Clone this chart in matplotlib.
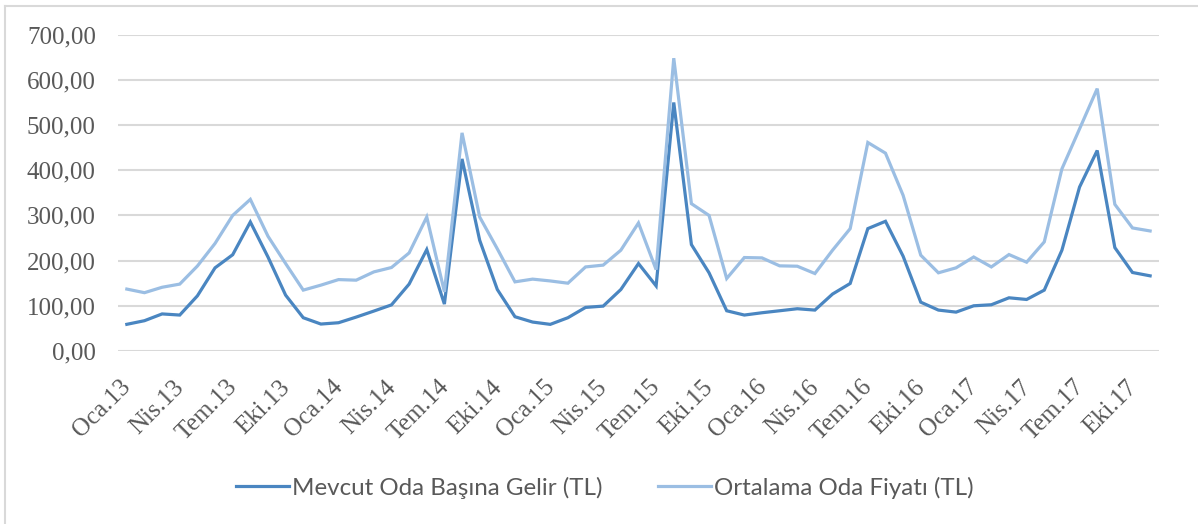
import matplotlib.pyplot as plt
from matplotlib.lines import Line2D
from matplotlib.transforms import ScaledTranslation

months = ['Oca', 'Şub', 'Mar', 'Nis', 'May', 'Haz', 'Tem', 'Ağu', 'Eyl', 'Eki', 'Kas', 'Ara']
years = ['13', '14', '15', '16', '17']
dates = [m + '.' + y for y in years for m in months][:59]

mevcut = [59, 67, 82, 79.5, 122, 184, 213, 285.5, 208, 123.6,
          73.6, 59.6, 62.5, 75, 88.3, 102, 148, 224.4, 103.8, 425,
          245, 136, 75.8, 64, 58.9, 73.6, 96.4, 99.3, 136, 193.5,
          144, 550, 235.5, 173, 89, 79.5, 84.6, 89, 93.5, 90.5,
          126, 149.4, 270.8, 287, 209.7, 108, 90.5, 86, 100, 102.3,
          117.7, 114, 134.7, 223, 362.8, 443.7, 228.8, 173.7, 166.3]
ortalama = [137, 129, 141, 148, 188, 238, 300, 335.5, 254, 193.5,
            134.7, 145.7, 158, 156.7, 175, 184.7, 217, 296.5, 131, 482.7,
            296.5, 226, 153, 159, 155, 150, 186, 190, 223, 283.3,
            180, 648, 326, 300, 160.4, 206.8, 206, 188.4, 187.6, 171.4,
            223, 270.8, 461.4, 437.8, 344.4, 212, 173, 184, 208, 186,
            213.4, 196.5, 241.4, 403, 491.5, 580.6, 324.5, 272.3, 265.6]

fig = plt.figure(figsize=(11.98, 5.24), dpi=100)
ax = fig.add_axes([0.0985, 0.3302, 0.8689, 0.6036])

x = list(range(len(dates)))
ax.plot(x, mevcut, color='#4a86c1', lw=2.3, label='Mevcut Oda Başına Gelir (TL)', solid_joinstyle='miter')
ax.plot(x, ortalama, color='#9bbee3', lw=2.3, label='Ortalama Oda Fiyatı (TL)', solid_joinstyle='miter')

ax.set_xlim(-0.5, len(dates) - 0.5)
ax.set_ylim(0, 700)
ax.set_yticks(range(0, 701, 100))
ax.set_yticklabels([f'{v},00' for v in range(0, 701, 100)])
ax.set_xticks(x[::3])
ax.set_xticklabels(dates[::3], rotation=45, ha='right', va='top', rotation_mode='anchor')

for s in ax.spines.values():
    s.set_visible(False)
ax.grid(axis='y', color='#d9d9d9', lw=1.5)
ax.set_axisbelow(True)
ax.tick_params(length=0, colors='#595959', labelsize=18)
ax.tick_params(axis='y', pad=16)
ax.tick_params(axis='x', pad=14)
shift = ScaledTranslation(-5 / 72, -4 / 72, fig.dpi_scale_trans)
for lab in ax.get_xticklabels():
    lab.set_fontfamily('Liberation Serif')
    lab.set_transform(lab.get_transform() + shift)
for lab in ax.get_yticklabels():
    lab.set_fontfamily('Liberation Serif')

leg = fig.legend(loc='center', bbox_to_anchor=(0.505, 0.069), ncol=2, frameon=False,
                 handlelength=2.2, handletextpad=0.12, columnspacing=2.3,
                 prop={'family': 'Lato', 'size': 17.4})
for t in leg.get_texts():
    t.set_color('#595959')

# chart border (only left and top visible in the crop)
fig.add_artist(Line2D([0.0045, 0.0045], [0, 0.989], color='#d9d9d9', lw=1.5, transform=fig.transFigure))
fig.add_artist(Line2D([0.0045, 1], [0.989, 0.989], color='#d9d9d9', lw=1.5, transform=fig.transFigure))

plt.savefig('out.png', dpi=100)
